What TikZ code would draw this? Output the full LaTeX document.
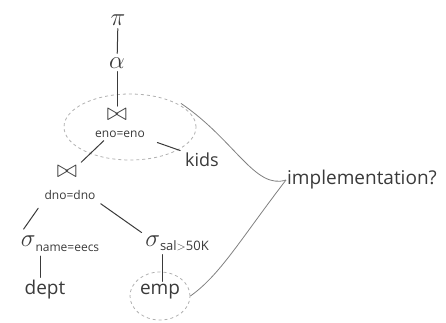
\documentclass[tikz,border=0pt]{standalone}
\usepackage{fontspec}
\setsansfont{Open Sans}
\usetikzlibrary{shapes.geometric}
\definecolor{ink}{HTML}{3A3A3A}
\definecolor{faint}{HTML}{B0B0B0}
\definecolor{mid}{HTML}{808080}
\begin{document}
\begin{tikzpicture}[x=1pt,y=-1pt,
  lbl/.style={text=ink,inner sep=1pt,font=\sffamily},
  edge/.style={draw=ink,line width=1pt,line cap=round},
  dashring/.style={draw=faint,dashed,line width=0.8pt,ellipse},
  wire/.style={draw=mid,line width=0.8pt}]
\useasboundingbox (0,0) rectangle (446,322);
\node[lbl,font=\fontsize{26}{26}\selectfont] (pi) at (118,20) {$\pi$};
\node[lbl,font=\fontsize{24}{24}\selectfont] (alpha) at (117,63) {$\alpha$};
\node[lbl,font=\fontsize{24}{24}\selectfont] (j1) at (117,115) {$\bowtie$};
\node[lbl,font=\sffamily\fontsize{12}{12}\selectfont] (j1c) at (120,134) {eno=eno};
\node[lbl,font=\fontsize{24}{24}\selectfont] (j2) at (67,172) {$\bowtie$};
\node[lbl,font=\sffamily\fontsize{12}{12}\selectfont] (j2c) at (70,195) {dno=dno};
\node[lbl,font=\sffamily\fontsize{18}{18}\selectfont] (kids) at (202,160) {kids};
\node[lbl] (s1) at (60,244) {\fontsize{24}{24}\selectfont$\sigma$\raisebox{-5pt}{\sffamily\fontsize{12}{12}\selectfont name=eecs}};
\node[lbl] (s2) at (177,243) {\fontsize{24}{24}\selectfont$\sigma$\raisebox{-4pt}{\sffamily\fontsize{13}{13}\selectfont sal$>$50K}};
\node[lbl,font=\sffamily\fontsize{19}{19}\selectfont] (dept) at (45,290) {dept};
\node[lbl,font=\sffamily\fontsize{19}{19}\selectfont] (emp) at (160,292) {emp};
\node[lbl,font=\sffamily\fontsize{19}{19}\selectfont] (impl) at (362,180) {implementation?};
\node[dashring,minimum width=132pt,minimum height=66pt] (ring1) at (130,127) {};
\node[dashring,minimum width=60pt,minimum height=48pt] (ring2) at (160,296) {};
\draw[edge,shorten <=2pt,shorten >=3pt] (pi) -- (alpha);
\draw[edge,shorten <=2pt,shorten >=2pt] (alpha) -- (j1);
\draw[edge,shorten <=3pt,shorten >=4pt] (j1c.south west) ++(12,0) coordinate (a1) (a1) -- (j2.north east);
\draw[edge,shorten <=12pt,shorten >=4pt] (j1c.south east) -- (kids.north west);
\draw[edge,shorten <=9pt,shorten >=7pt] (j2c.south west) -- (s1.north west);
\draw[edge,shorten <=5pt,shorten >=3pt] (j2c.south east) -- (s2.north west);
\path (s1.south west) ++(21,0) coordinate (b1);
\draw[edge,shorten <=3pt,shorten >=2pt] (b1) -- (b1 |- dept.north);
\path (s2.south west) ++(18,0) coordinate (b2);
\draw[edge,shorten <=3pt,shorten >=2pt] (b2) -- (b2 |- emp.north);
\draw[wire] (ring1.north east) ++(4,0) coordinate (c1) (c1) .. controls (235,140) and (255,190) .. (impl.west);
\draw[wire] (impl.west) .. controls (240,240) and (220,275) .. (ring2.east);
\end{tikzpicture}
\end{document}
